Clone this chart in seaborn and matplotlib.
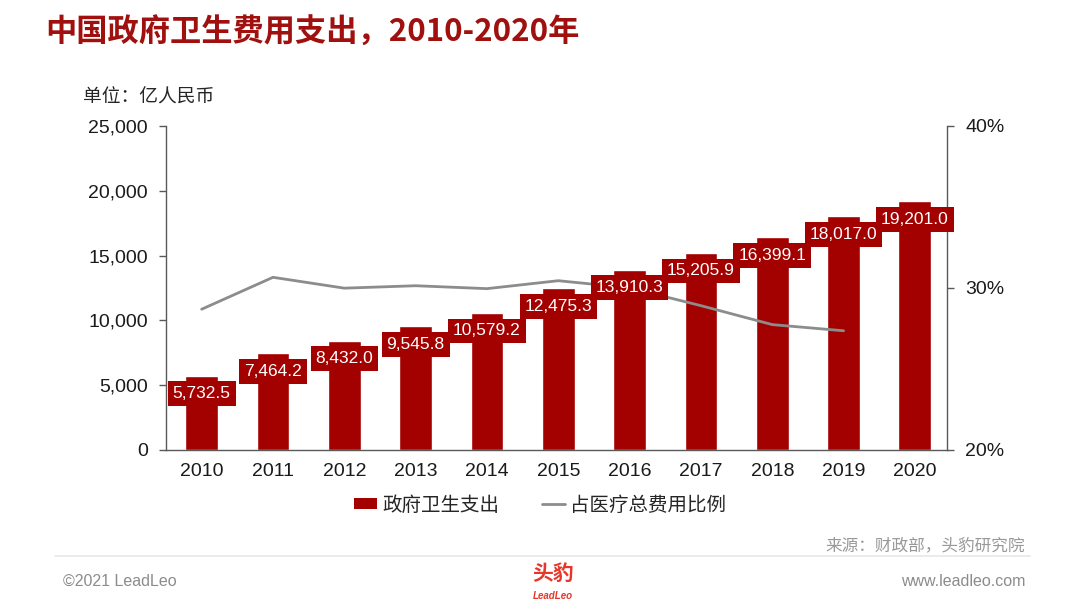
import numpy as np
import matplotlib
matplotlib.use("Agg")
import matplotlib.pyplot as plt
import seaborn as sns
from matplotlib.patches import Patch
from matplotlib.lines import Line2D
from matplotlib.font_manager import FontProperties

# ---- data ----
years = ['2010', '2011', '2012', '2013', '2014', '2015', '2016', '2017', '2018', '2019', '2020']
spending = [5732.5, 7464.2, 8432.0, 9545.8, 10579.2, 12475.3, 13910.3, 15205.9, 16399.1, 18017.0, 19201.0]
ratio_years = ['2010', '2011', '2012', '2013', '2014', '2015', '2016', '2017', '2018', '2019']
ratio = [28.69, 30.66, 29.99, 30.14, 29.96, 30.45, 30.01, 28.91, 27.74, 27.36]
left_ticks = [0, 5000, 10000, 15000, 20000, 25000]
right_ticks = [20, 30, 40]

title = '中国政府卫生费用支出，2010-2020年'
unit = '单位：亿人民币'
legend_labels = ['政府卫生支出', '占医疗总费用比例']
source = '来源：财政部，头豹研究院'

BAR = '#A30000'
LINE = '#8C8C8C'
TITLE_C = '#A0100F'
SPINE = '#595959'

sns.set_theme(style='white')
plt.rcParams['font.family'] = ['Liberation Sans', 'Noto Sans CJK SC']
cjk = ['Noto Sans CJK SC', 'DejaVu Sans']

fig = plt.figure(figsize=(10.8, 6.08), dpi=100)
W, H = 1080, 608
ax = fig.add_axes([166 / W, 1 - 450 / H, (947 - 166) / W, (450 - 126) / H])

sns.barplot(x=years, y=spending, color=BAR, saturation=1, width=0.46, ax=ax, zorder=2)
ax.set_ylim(0, 25000)
ax.set_yticks(left_ticks)
ax.set_yticklabels([f'{v:,}' for v in left_ticks])
ax.set_xlabel('')
ax.set_ylabel('')

ax2 = ax.twinx()
sns.lineplot(x=np.arange(len(ratio)), y=ratio, color=LINE, linewidth=2, ax=ax2, zorder=3)
ax2.set_ylim(20, 40)
ax2.set_yticks(right_ticks)
ax2.set_yticklabels([f'{v}%' for v in right_ticks])
ax2.set_ylabel('')
ax.set_xlim(-0.5, 10.45)

for a in (ax, ax2):
    a.spines['top'].set_visible(False)
    for s in ('left', 'right', 'bottom'):
        a.spines[s].set_color(SPINE)
        a.spines[s].set_linewidth(1.0)
ax.spines['right'].set_visible(False)
ax2.spines['left'].set_visible(False)
ax2.spines['bottom'].set_visible(False)

ax.tick_params(axis='y', left=True, length=5, width=1, color=SPINE, labelsize=14, pad=8, labelcolor='#1a1a1a')
ax.tick_params(axis='x', length=0, labelsize=14, pad=9, labelcolor='#1a1a1a')
ax2.tick_params(axis='y', right=True, length=5, width=1, color=SPINE, labelsize=14, pad=8, labelcolor='#1a1a1a')

# value labels (drawn above line)
for i, v in enumerate(spending):
    ax2.annotate(f'{v:,.1f}', xy=(i, v), xycoords=ax.transData,
                 xytext=(0, -13), textcoords='offset points',
                 ha='center', va='center', color='white', fontsize=12.5,
                 bbox=dict(boxstyle='square,pad=0.28', fc=BAR, ec='none'), zorder=5)

# title & unit
fig.text(45 / W, 1 - 33 / H, title, family=cjk, fontsize=22.5, fontweight='bold',
         color=TITLE_C, ha='left', va='center')
fig.text(83 / W, 1 - 97 / H, unit, family=cjk, fontsize=13.5, color='#262626',
         ha='left', va='center')

# legend
handles = [Patch(facecolor=BAR, edgecolor='none'), Line2D([0], [0], color=LINE, lw=2)]
fig.legend(handles, legend_labels, loc='center', bbox_to_anchor=(0.5, 1 - 505 / H), ncol=2,
           frameon=False, prop=FontProperties(family='Noto Sans CJK SC', size=14),
           handlelength=1.2, handleheight=0.55, handletextpad=0.25, columnspacing=2.2)

# footer
fig.text(1025 / W, 1 - 546 / H, source, family=cjk, fontsize=12, color='#999999',
         style='italic', ha='right', va='center')
fig.add_artist(Line2D([55 / W, 1030 / W], [1 - 556 / H, 1 - 556 / H], color='#e8e8e8', lw=1.2))
fig.text(63 / W, 1 - 581 / H, '©2021 LeadLeo', fontsize=11.5, color='#8c8c8c', ha='left', va='center')
fig.text(1025 / W, 1 - 581 / H, 'www.leadleo.com', fontsize=11.5, color='#8c8c8c', ha='right', va='center')
fig.text(553 / W, 1 - 573 / H, '头豹', family=cjk, fontsize=15, fontweight='bold', color='#E8362B',
         ha='center', va='center')
fig.text(553 / W, 1 - 596 / H, 'LeadLeo', fontsize=7, fontweight='bold', color='#E8362B',
         style='italic', ha='center', va='center')

fig.savefig('out.png', dpi=100)
